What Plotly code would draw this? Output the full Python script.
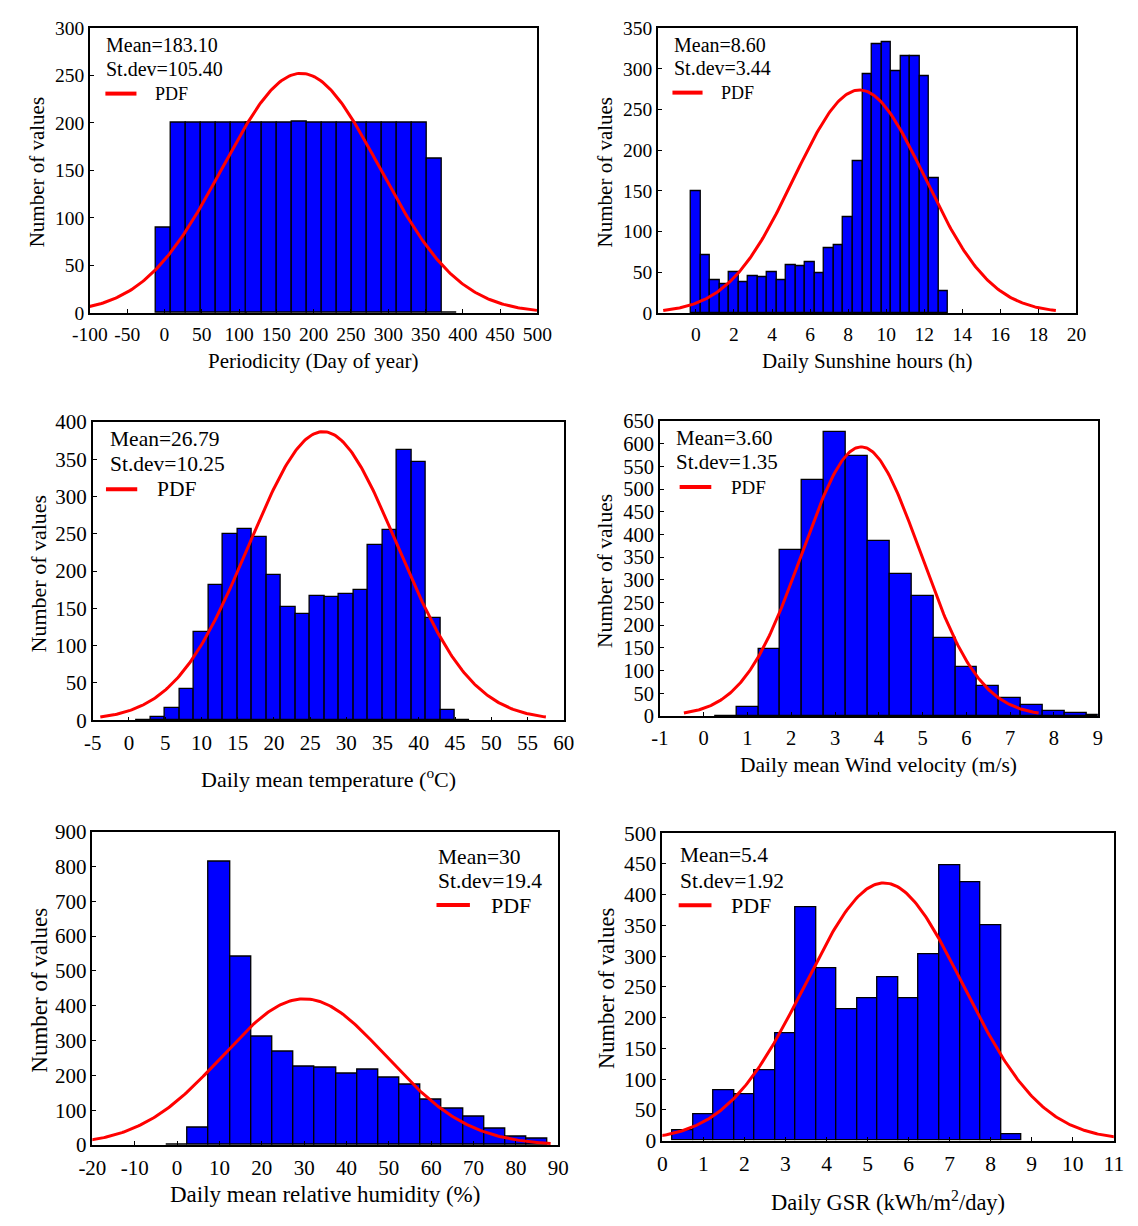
import numpy as np
import plotly.graph_objects as go

W, H = 1138, 1226
FONT = "Liberation Serif"

# ---------------- data ----------------
# Panel 1: Periodicity (day of year)
doy_centers = [-1.1, 19.1, 39.2, 59.4, 79.5, 99.7, 119.8, 140.0, 160.1, 180.3,
               200.4, 220.6, 240.7, 260.9, 281.0, 301.2, 321.3, 341.5, 361.6, 381.8]
doy_counts = [90, 200, 200, 200, 200, 200, 200, 200, 200, 201,
              200, 200, 200, 200, 200, 200, 200, 200, 162, 0]
doy_width = 20.15

# Panel 2: Daily sunshine hours
sun_centers = [0.0, 0.5, 1.0, 1.5, 2.0, 2.5, 3.0, 3.5, 4.0, 4.5, 5.0, 5.5, 6.0, 6.5,
               7.0, 7.5, 8.0, 8.5, 9.0, 9.5, 10.0, 10.5, 11.0, 11.5, 12.0, 12.5, 13.0]
sun_counts = [150, 71, 40, 35, 50, 38, 45, 44, 50, 40, 59, 58, 62, 49,
              80, 84, 118, 187, 293, 330, 333, 297, 315, 316, 291, 166, 27]
sun_width = 0.5

# Panel 3: Daily mean temperature
temp_centers = [2, 4, 6, 8, 10, 12, 14, 16, 18, 20, 22, 24, 26, 28, 30, 32, 34, 36,
                38, 40, 42, 44, 46]
temp_counts = [0, 4, 16, 42, 119, 182, 250, 257, 246, 195, 152, 142, 167, 166, 170,
               175, 235, 255, 362, 347, 137, 14, 0]
temp_width = 2

# Panel 4: Daily mean wind velocity
wind_centers = [0.5, 1.0, 1.5, 2.0, 2.5, 3.0, 3.5, 4.0, 4.5, 5.0, 5.5, 6.0, 6.5, 7.0,
                7.5, 8.0, 8.5, 9.0]
wind_counts = [1, 20, 147, 366, 519, 626, 572, 385, 312, 265, 172, 109, 66, 39, 24, 11, 6, 2]
wind_width = 0.5

# Panel 5: Daily mean relative humidity
rh_centers = [0, 5, 10, 15, 20, 25, 30, 35, 40, 45, 50, 55, 60, 65, 70, 75, 80, 85]
rh_counts = [0, 49, 814, 542, 312, 269, 224, 223, 204, 216, 195, 175, 131, 105, 83, 47, 23, 18]
rh_width = 5

# Panel 6: Daily GSR
gsr_centers = [0.5, 1.0, 1.5, 2.0, 2.5, 3.0, 3.5, 4.0, 4.5, 5.0, 5.5, 6.0, 6.5, 7.0,
               7.5, 8.0, 8.5]
gsr_counts = [16, 42, 82, 75, 114, 175, 379, 280, 214, 232, 266, 232, 303, 448, 420, 350, 11]
gsr_width = 0.5

# fitted normal PDF parameters (mean, st.dev, peak height in counts)
pdf_means = [183.10, 8.60, 26.79, 3.60, 30.0, 5.4]
pdf_stdevs = [105.40, 3.44, 10.25, 1.35, 19.4, 1.92]
pdf_peaks = [252, 274, 387, 593, 420, 419]

# text
mean_labels = ["Mean=183.10", "Mean=8.60", "Mean=26.79", "Mean=3.60", "Mean=30", "Mean=5.4"]
std_labels = ["St.dev=105.40", "St.dev=3.44", "St.dev=10.25", "St.dev=1.35", "St.dev=19.4", "St.dev=1.92"]
x_titles = ["Periodicity (Day of year)", "Daily Sunshine hours (h)",
            "Daily mean temperature (<sup>o</sup>C)", "Daily mean Wind velocity (m/s)",
            "Daily mean relative humidity (%)", "Daily GSR (kWh/m<sup>2</sup>/day)"]
y_title = "Number of values"

# axes
x_ranges = [[-100, 500], [-2, 20], [-5, 60], [-1, 9], [-20, 90], [0, 11]]
x_ticks = [list(range(-100, 501, 50)), list(range(0, 21, 2)), list(range(-5, 61, 5)),
           list(range(-1, 10, 1)), list(range(-20, 91, 10)), list(range(0, 12, 1))]
y_ranges = [[0, 300], [0, 350], [0, 400], [0, 650], [0, 900], [0, 500]]
y_ticks = [list(range(0, 301, 50)), list(range(0, 351, 50)), list(range(0, 401, 50)),
           list(range(0, 651, 50)), list(range(0, 901, 100)), list(range(0, 501, 50))]

# ---------------- layout (pixels) ----------------
frames = [  # left, right, top, bottom
    (74, 535, 16, 307.3),
    (659, 1090, 16.5, 307.3),
    (77, 562, 418.5, 723),
    (661, 1112, 417.5, 718.7),
    (76.6, 556.4, 836.7, 1156.7),
    (663.6, 1128.5, 838.3, 1152),
]
tick_sizes = [19.5, 19.5, 21, 20.5, 21, 21.5]
leg_sizes = [20, 20, 21.5, 21, 21.5, 21.5]
pdf_sizes = [18, 18, 21.5, 19, 22, 22]
title_sizes = [21, 21, 22, 21.5, 23, 22.5]
xtitle_y = [356.7, 356.7, 781.7, 768.3, 1206.7, 1213.3]
ytitle_x = [19.6, 604.4, 21, 605, 22, 606.7]
# legend block: text left x, mean y, stdev y, line x0, line x1, line y, PDF text x
leg_pos = [
    (88.6, 33.3, 57.7, 90, 122, 83.3, 138.6),
    (674, 33.3, 56.7, 674, 705, 82.3, 722),
    (92.5, 436, 461, 90.6, 122.8, 487.3, 140.6),
    (676, 435, 459.3, 681.4, 714, 485, 732),
    (430.3, 862.2, 887.0, 431, 465.4, 911.7, 484.6),
    (679.6, 861, 887.4, 680.4, 714.2, 911.9, 732),
]

centers = [doy_centers, sun_centers, temp_centers, wind_centers, rh_centers, gsr_centers]
counts = [doy_counts, sun_counts, temp_counts, wind_counts, rh_counts, gsr_counts]
widths = [doy_width, sun_width, temp_width, wind_width, rh_width, gsr_width]


def px(x):
    return x / W


def py(y):
    return 1 - y / H


fig = go.Figure()
annotations = []
shapes = []
layout_axes = {}

for i in range(6):
    n = "" if i == 0 else str(i + 1)
    xa, ya = "x" + n, "y" + n
    L, R, T, B = frames[i]

    fig.add_trace(go.Bar(
        x=centers[i], y=counts[i], width=widths[i],
        marker=dict(color="#0000FF", line=dict(color="black", width=1.3)),
        xaxis=xa, yaxis=ya, showlegend=False))

    m, s, pk = pdf_means[i], pdf_stdevs[i], pdf_peaks[i]
    xs = np.linspace(m - 3 * s, m + 3 * s, 300)
    ys = pk * np.exp(-0.5 * ((xs - m) / s) ** 2)
    fig.add_trace(go.Scatter(
        x=xs, y=ys, mode="lines", line=dict(color="#FF0000", width=3),
        xaxis=xa, yaxis=ya, showlegend=False))

    common = dict(showline=True, linecolor="black", linewidth=1.5, mirror=True,
                  ticks="inside", ticklen=4, tickwidth=1.2, tickcolor="black",
                  showgrid=False, zeroline=False, tickangle=0,
                  tickfont=dict(family=FONT, size=tick_sizes[i], color="black"))
    layout_axes["xaxis" + n] = dict(domain=[px(L), px(R)], range=x_ranges[i],
                                    tickmode="array", tickvals=x_ticks[i],
                                    ticktext=[str(v) for v in x_ticks[i]],
                                    ticklabelstandoff=3,
                                    anchor=ya, **common)
    layout_axes["yaxis" + n] = dict(domain=[py(B), py(T)], range=y_ranges[i],
                                    tickmode="array", tickvals=y_ticks[i],
                                    ticktext=[str(v) for v in y_ticks[i]],
                                    anchor=xa, **common)

    tx, my, sy, lx0, lx1, ly, pdfx = leg_pos[i]
    annotations.append(dict(text=mean_labels[i], x=px(tx), y=py(my), xref="paper", yref="paper",
                            xanchor="left", yanchor="middle", showarrow=False,
                            font=dict(family=FONT, size=leg_sizes[i], color="black")))
    annotations.append(dict(text=std_labels[i], x=px(tx), y=py(sy), xref="paper", yref="paper",
                            xanchor="left", yanchor="middle", showarrow=False,
                            font=dict(family=FONT, size=leg_sizes[i], color="black")))
    annotations.append(dict(text="PDF", x=px(pdfx), y=py(ly), xref="paper", yref="paper",
                            xanchor="left", yanchor="middle", showarrow=False,
                            font=dict(family=FONT, size=pdf_sizes[i], color="black")))
    shapes.append(dict(type="line", xref="paper", yref="paper",
                       x0=px(lx0), x1=px(lx1), y0=py(ly), y1=py(ly),
                       line=dict(color="#FF0000", width=4)))

    annotations.append(dict(text=x_titles[i], x=px((L + R) / 2), y=py(xtitle_y[i]),
                            xref="paper", yref="paper", xanchor="center", yanchor="middle",
                            showarrow=False,
                            font=dict(family=FONT, size=title_sizes[i], color="black")))
    annotations.append(dict(text=y_title, x=px(ytitle_x[i]), y=py((T + B) / 2 + 2),
                            xref="paper", yref="paper", xanchor="center", yanchor="middle",
                            textangle=-90, showarrow=False,
                            font=dict(family=FONT, size=title_sizes[i], color="black")))

fig.update_layout(
    width=W, height=H, margin=dict(l=0, r=0, t=0, b=0),
    paper_bgcolor="white", plot_bgcolor="white",
    bargap=0, showlegend=False,
    annotations=annotations, shapes=shapes,
    **layout_axes,
)

fig.write_html("out.html")
